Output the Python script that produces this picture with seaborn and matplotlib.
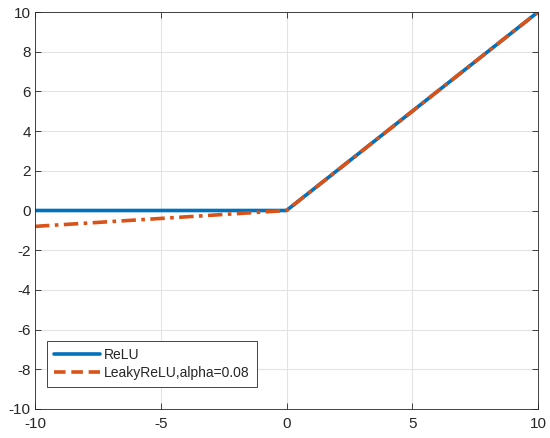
import matplotlib
matplotlib.use("Agg")
import matplotlib.pyplot as plt
import seaborn as sns
import pandas as pd

x_vals = [-10, 0, 10]
relu_vals = [0, 0, 10]
leaky_vals = [-0.8, 0, 10]
x_ticks = [-10, -5, 0, 5, 10]
y_ticks = [-10, -8, -6, -4, -2, 0, 2, 4, 6, 8, 10]

sns.set_style("white")
plt.rcParams['font.family'] = ['Liberation Sans', 'DejaVu Sans']

blue = (0, 0.447, 0.741)
orange = (0.85, 0.325, 0.098)

fig = plt.figure(figsize=(5.5, 4.38), dpi=100)
ax = fig.add_axes([35/550, 1 - 409/438, (538-35)/550, (409-12)/438])

df = pd.DataFrame({"x": x_vals, "relu": relu_vals, "leaky": leaky_vals})
sns.lineplot(data=df, x="x", y="relu", ax=ax, color=blue, linewidth=2.6, label="ReLU")
sns.lineplot(data=df, x="x", y="leaky", ax=ax, color=orange, linewidth=2.6,
             linestyle=(0, (4, 1.5, 1, 1.5)), label="LeakyReLU,alpha=0.08")

ax.set_xlim(-10, 10)
ax.set_ylim(-10, 10)
ax.set_xticks(x_ticks)
ax.set_yticks(y_ticks)
ax.set_xticklabels([str(t) for t in x_ticks])
ax.set_yticklabels([str(t) for t in y_ticks])
ax.set_xlabel("")
ax.set_ylabel("")
ax.grid(True, color="#e3e3e3", linewidth=0.8)
ax.set_axisbelow(True)
for s in ax.spines.values():
    s.set_color("#262626")
    s.set_linewidth(0.6)
    s.set_visible(True)
ax.tick_params(direction="in", length=4, width=0.6, colors="#262626", labelsize=11,
               top=True, right=True, bottom=True, left=True, labeltop=False, labelright=False)
ax.tick_params(axis="x", pad=6)
ax.tick_params(axis="y", pad=3)

leg = ax.legend(loc="lower left", bbox_to_anchor=(0.024, 0.055), fontsize=10,
                frameon=True, fancybox=False, edgecolor="#262626", framealpha=1,
                handlelength=3.3, borderpad=0.5, labelspacing=0.3, handletextpad=0.3,
                borderaxespad=0)
leg.get_frame().set_linewidth(0.6)
for line in leg.get_lines():
    line.set_linewidth(2.6)
leg.get_lines()[1].set_linestyle((0, (3.2, 1.6)))

fig.savefig("out.png", dpi=100)
